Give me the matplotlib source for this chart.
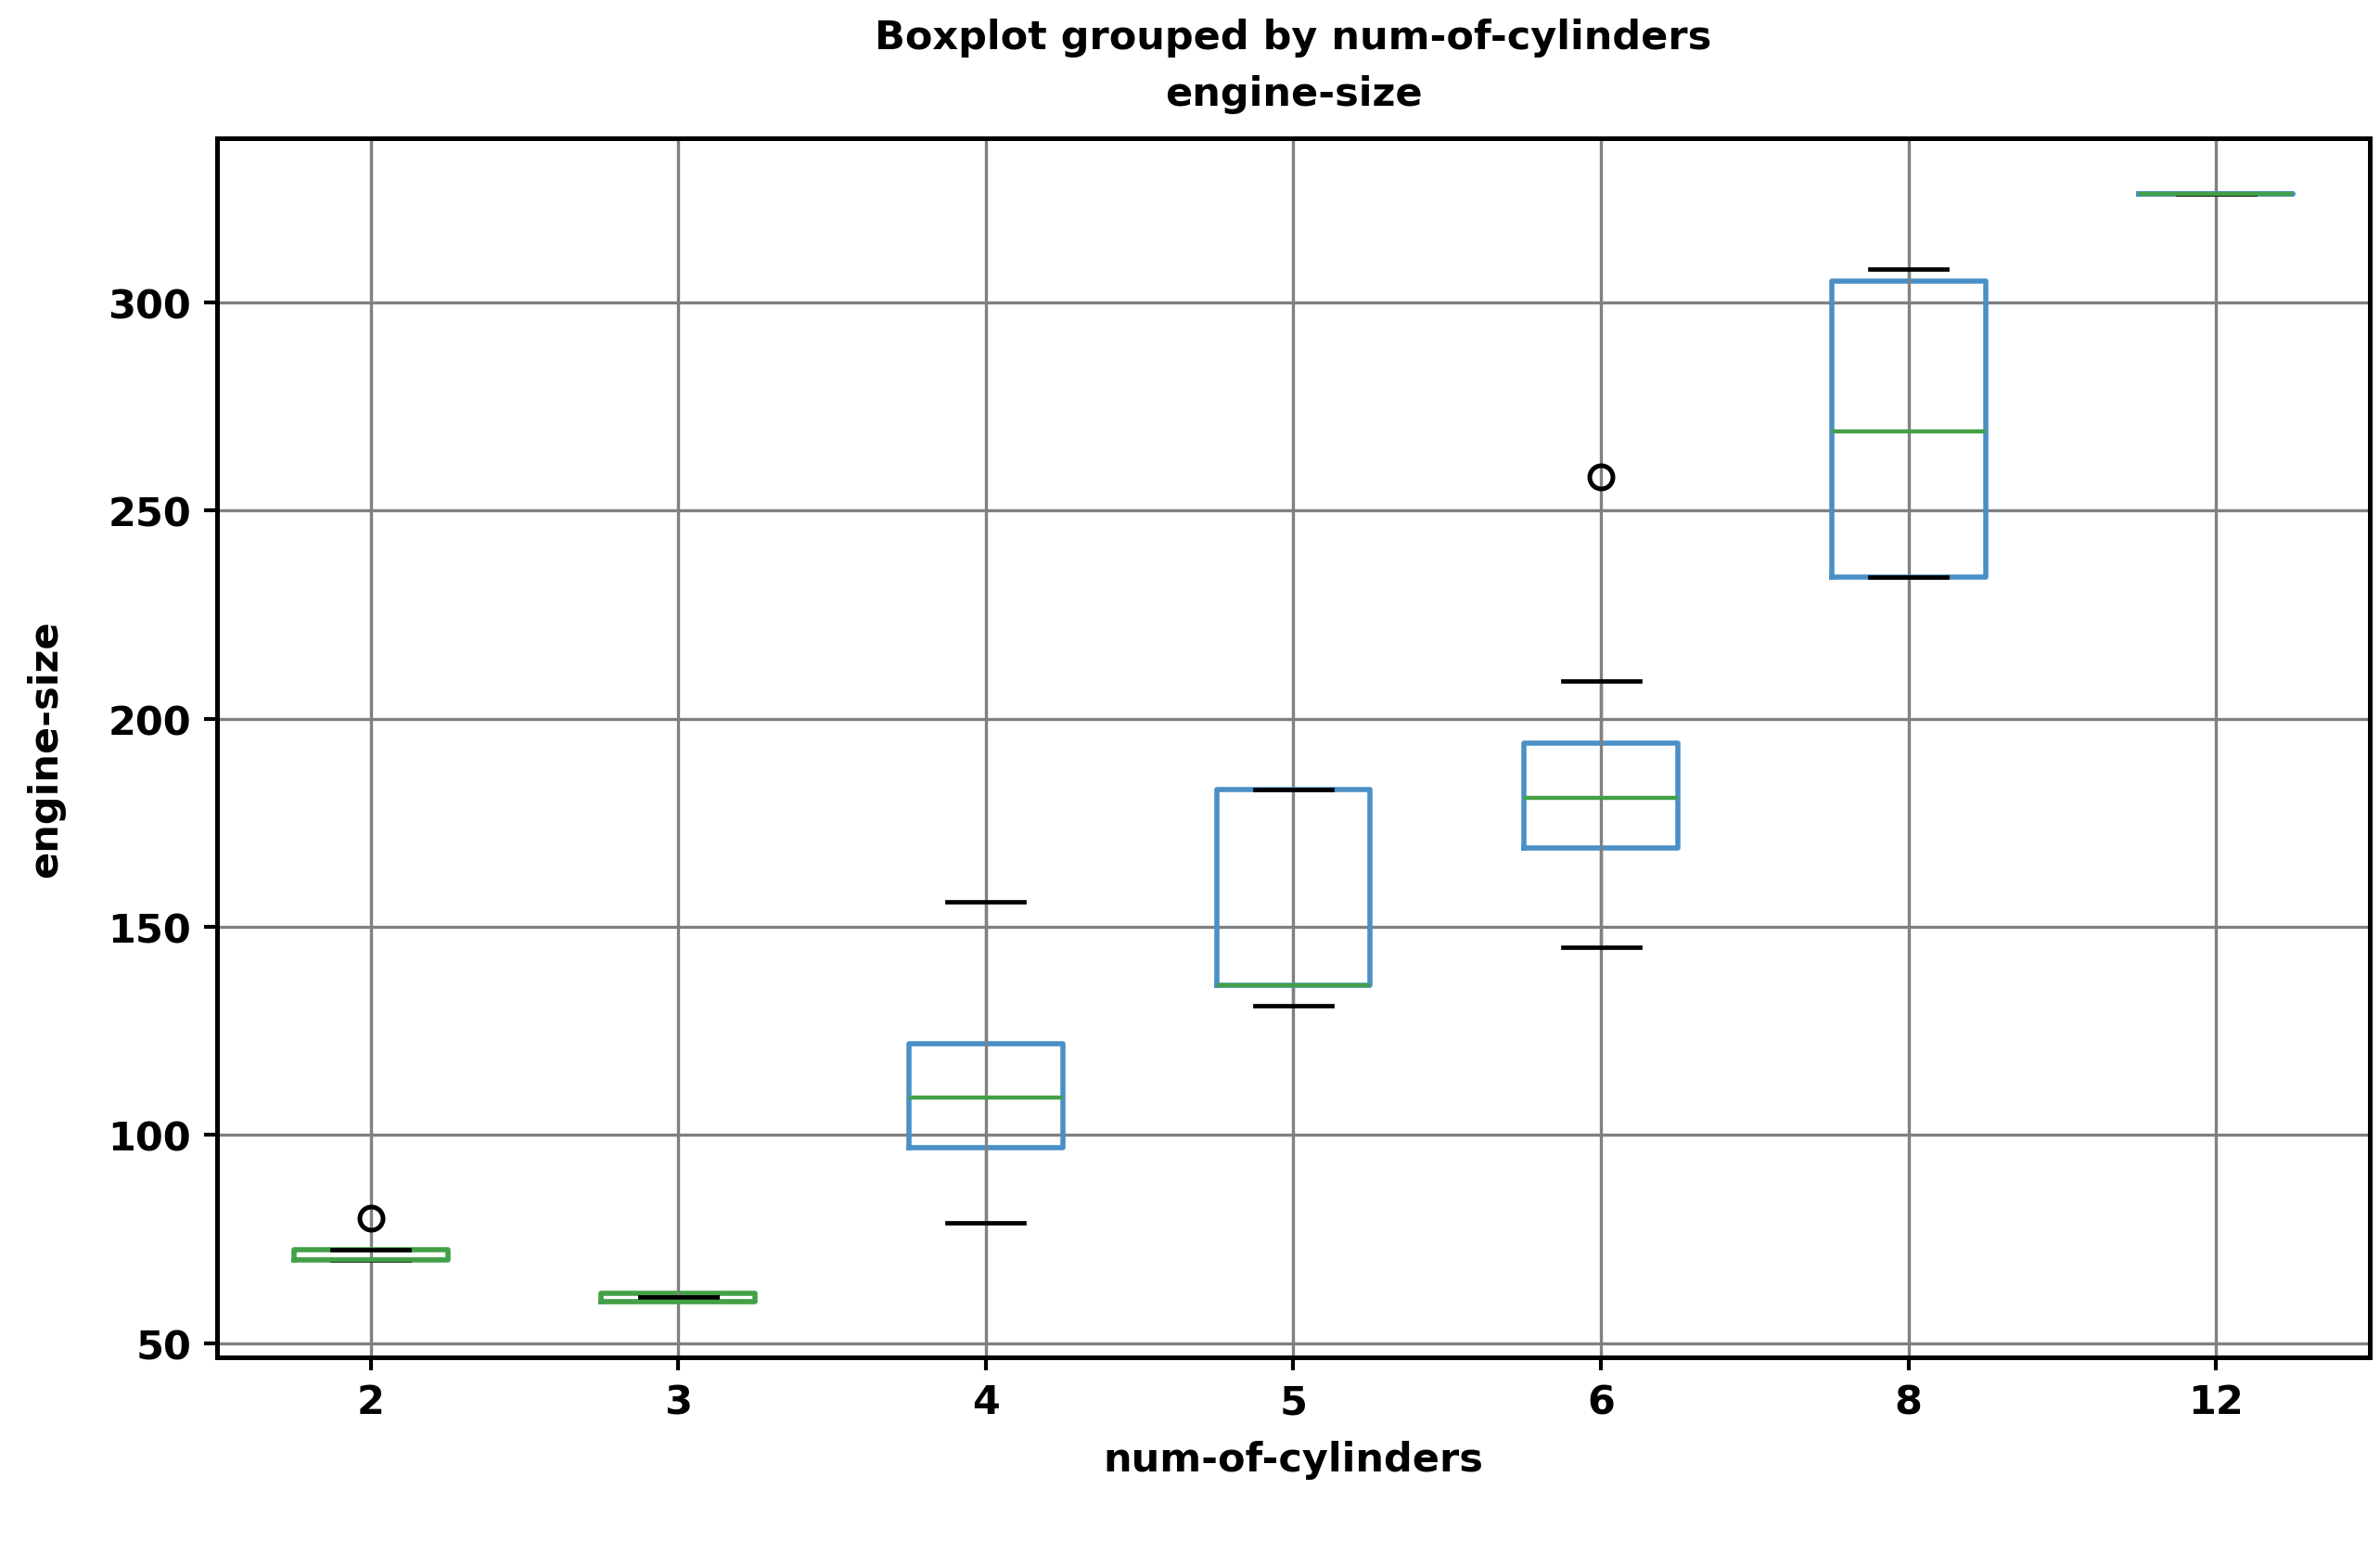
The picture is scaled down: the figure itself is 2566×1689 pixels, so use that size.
import matplotlib
matplotlib.use("Agg")
import matplotlib.pyplot as plt
from matplotlib import font_manager

# summary stats, one entry per cylinder group
cylinders = ["2", "3", "4", "5", "6", "8", "12"]
q1 = [70, 60, 97, 136, 169, 234, 326]
med = [70, 60, 109, 136, 181, 269, 326]
q3 = [72.5, 62, 122, 183, 194, 305, 326]
whislo = [70, 61, 79, 131, 145, 234, 326]
whishi = [72.5, 61, 156, 183, 209, 308, 326]
fliers = [[80], [], [], [], [258], [], []]
box_colors = ["#43A047", "#43A047", "#4A90C6", "#4A90C6", "#4A90C6", "#4A90C6", "#4A90C6"]

BLUE = "#4A90C6"
GREEN = "#43A047"
GRID = "#808080"

names = {f.name for f in font_manager.fontManager.ttflist}
narrow = "Liberation Sans Narrow" if "Liberation Sans Narrow" in names else "DejaVu Sans"

stats = []
for i in range(len(cylinders)):
    stats.append({"label": cylinders[i], "q1": q1[i], "med": med[i], "q3": q3[i],
                  "whislo": whislo[i], "whishi": whishi[i], "fliers": fliers[i]})

fig = plt.figure(figsize=(12.83, 8.45), dpi=200)
ax_rect = [0.0912, 0.134, 0.9045, 0.777]
ax = fig.add_axes(ax_rect)

bp = ax.bxp(stats, widths=0.5,
            boxprops=dict(color=BLUE, linewidth=2.0),
            medianprops=dict(color=GREEN, linewidth=1.6),
            whiskerprops=dict(color=GRID, linewidth=1.2),
            capprops=dict(color="black", linewidth=1.7),
            flierprops=dict(marker="o", markersize=9, markerfacecolor="none",
                            markeredgecolor="black", markeredgewidth=1.8))
for box, c in zip(bp["boxes"], box_colors):
    box.set_color(c)

ax.set_xlim(0.5, 7.5)
ax.grid(True, color=GRID, linewidth=1.2)
ax.set_axisbelow(True)

for s in ax.spines.values():
    s.set_linewidth(1.8)
    s.set_color("black")

ax.tick_params(axis="both", length=5, width=1.5, pad=5, labelsize=15.5)
for lab in ax.get_xticklabels() + ax.get_yticklabels():
    lab.set_fontweight("bold")
    lab.set_family("DejaVu Sans")

label_font = dict(family=narrow, fontweight="bold", fontsize=15.5)
# suptitle centred over the axes, like the reference
fig.suptitle("Boxplot grouped by num-of-cylinders", x=ax_rect[0] + ax_rect[2] / 2,
             y=0.976, va="center", **label_font)
ax.set_title("engine-size", y=1.037, pad=0, va="center", **label_font)
ax.set_xlabel("num-of-cylinders", va="center", **label_font)
ax.xaxis.set_label_coords(0.5, -0.084)
ax.set_ylabel("engine-size", va="center", **label_font)
ax.yaxis.set_label_coords(-0.0797, 0.5)

fig.savefig("out.png", dpi=200)
